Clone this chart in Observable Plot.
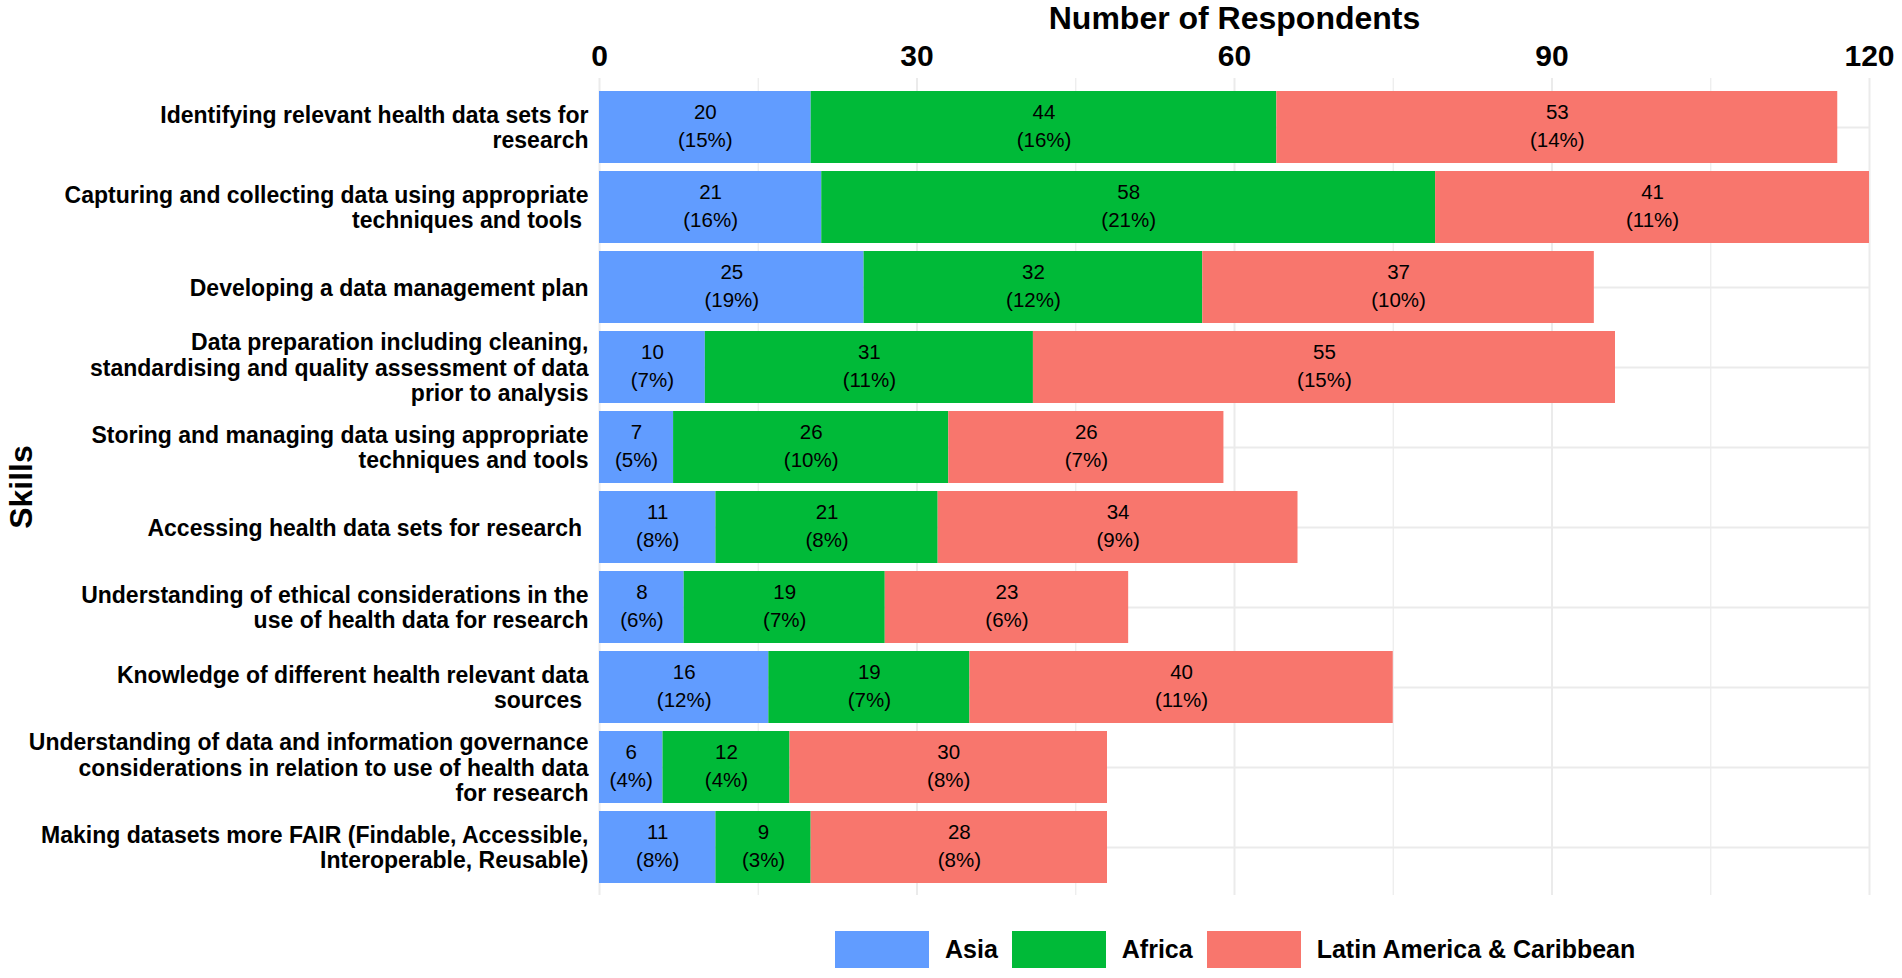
<!DOCTYPE html>
<html>
<head>
<meta charset="utf-8">
<script src="https://cdn.jsdelivr.net/npm/d3@7"></script>
<script src="https://cdn.jsdelivr.net/npm/@observablehq/plot@0.6"></script>
<style>
  html, body { margin: 0; padding: 0; background: #fff; }
  body { width: 1902px; height: 978px; position: relative; overflow: hidden; font-family: "Liberation Sans", Arial, sans-serif; }
  #legend { position: absolute; left: 835px; top: 931px; display: flex; align-items: center; font-weight: bold; font-size: 25px; color: #000; }
  .sw { width: 94px; height: 37px; margin-right: 16px; }
  .lab { margin-right: 14px; }
</style>
</head>
<body>
<div id="chart"></div>
<div id="legend"></div>
<script>
const skills = [
  "Identifying relevant health data sets for\nresearch",
  "Capturing and collecting data using appropriate\ntechniques and tools\u00a0",
  "Developing a data management plan",
  "Data preparation including cleaning,\nstandardising and quality assessment of data\nprior to analysis",
  "Storing and managing data using appropriate\ntechniques and tools",
  "Accessing health data sets for research\u00a0",
  "Understanding of ethical considerations in the\nuse of health data for research",
  "Knowledge of different health relevant data\nsources\u00a0",
  "Understanding of data and information governance\nconsiderations in relation to use of health data\nfor research",
  "Making datasets more FAIR (Findable, Accessible,\nInteroperable, Reusable)"
];
const regions = ["Asia", "Africa", "Latin America & Caribbean"];
const colors = ["#619CFF", "#00BA38", "#F8766D"];

const asiaCounts   = [20, 21, 25, 10, 7, 11, 8, 16, 6, 11];
const africaCounts = [44, 58, 32, 31, 26, 21, 19, 19, 12, 9];
const latamCounts  = [53, 41, 37, 55, 26, 34, 23, 40, 30, 28];

const asiaPct   = [15, 16, 19, 7, 5, 8, 6, 12, 4, 8];
const africaPct = [16, 21, 12, 11, 10, 8, 7, 7, 4, 3];
const latamPct  = [14, 11, 10, 15, 7, 9, 6, 11, 8, 8];

const xTicks = [0, 30, 60, 90, 120];
const xMinorTicks = [15, 45, 75, 105];
const xTitle = "Number of Respondents";
const yTitle = "Skills";

const counts = [asiaCounts, africaCounts, latamCounts];
const pcts = [asiaPct, africaPct, latamPct];
const data = [];
skills.forEach((s, i) => {
  regions.forEach((r, j) => {
    data.push({skill: s, region: r, value: counts[j][i], pct: pcts[j][i]});
  });
});

const gridColor = "#EBEBEB";

const chart = Plot.plot({
  width: 1902,
  height: 910,
  marginLeft: 599,
  marginRight: 33,
  marginTop: 78,
  marginBottom: 15,
  style: {fontFamily: "'Liberation Sans', Arial, sans-serif", background: "#fff", color: "#000"},
  x: {domain: [0, 120]},
  y: {type: "band", domain: skills, paddingInner: 0.1, paddingOuter: 0.15},
  color: {domain: regions, range: colors},
  marks: [
    Plot.gridX(xMinorTicks, {stroke: gridColor, strokeOpacity: 1, strokeWidth: 1.2}),
    Plot.gridX(xTicks, {stroke: gridColor, strokeOpacity: 1, strokeWidth: 2}),
    Plot.gridY({stroke: gridColor, strokeOpacity: 1, strokeWidth: 2}),
    Plot.barX(data, Plot.stackX({x: "value", y: "skill", fill: "region", order: regions})),
    Plot.text(data, Plot.stackX({
      x: "value", y: "skill", z: "region", order: regions,
      text: d => `${d.value}\n(${d.pct}%)`,
      fontSize: 20.5, lineHeight: 1.36, fill: "#000", dy: -3
    })),
    Plot.axisX(xTicks, {anchor: "top", tickSize: 0, tickPadding: 13, fontSize: 30, fontWeight: "bold", fill: "#000", label: null}),
    Plot.axisY({anchor: "left", tickSize: 0, tickPadding: 11, fontSize: 23, fontWeight: "bold", lineHeight: 1.11, fill: "#000", label: null}),
    Plot.text([xTitle], {frameAnchor: "top", dy: -50, lineAnchor: "bottom", fontSize: 32, fontWeight: "bold", fill: "#000"}),
    Plot.text([yTitle], {frameAnchor: "left", textAnchor: "middle", dx: -578, rotate: -90, fontSize: 32, fontWeight: "bold", fill: "#000"})
  ]
});
document.getElementById("chart").appendChild(chart);

const legend = document.getElementById("legend");
regions.forEach((r, j) => {
  const sw = document.createElement("div");
  sw.className = "sw";
  sw.style.background = colors[j];
  const lab = document.createElement("div");
  lab.className = "lab";
  lab.textContent = r;
  legend.appendChild(sw);
  legend.appendChild(lab);
});
</script>
</body>
</html>
